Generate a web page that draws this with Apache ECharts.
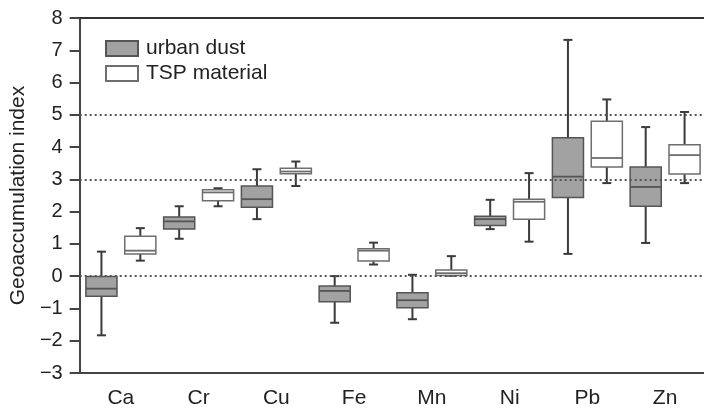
<!DOCTYPE html>
<html>

<head>
  <meta charset="UTF-8">
  <title>Geoaccumulation index</title>
  <script type="text/javascript" src="https://cdn.jsdelivr.net/npm/echarts@6/dist/echarts.min.js"></script>
  <style>
    html, body { margin: 0; padding: 0; background: #fff; }
    #main { width: 704px; height: 409px; }
  </style>
</head>

<body>
  <div id="main"></div>

  <script>
    // categories (elements)
    var elements = ['Ca', 'Cr', 'Cu', 'Fe', 'Mn', 'Ni', 'Pb', 'Zn'];
    var yTicks = { min: -3, max: 8, step: 1 };
    var refLines = [0, 3, 5];

    // [lower whisker, Q1, median, Q3, upper whisker]
    var urbanDust = [
      [-1.86, -0.65, -0.41, -0.03, 0.74],
      [1.14, 1.44, 1.68, 1.82, 2.15],
      [1.75, 2.12, 2.37, 2.78, 3.30],
      [-1.47, -0.82, -0.48, -0.33, -0.02],
      [-1.36, -1.00, -0.77, -0.54, 0.02],
      [1.44, 1.55, 1.75, 1.84, 2.35],
      [0.67, 2.42, 3.07, 4.28, 7.32],
      [1.01, 2.15, 2.75, 3.37, 4.61]
    ];
    var tspMaterial = [
      [0.46, 0.67, 0.77, 1.22, 1.47],
      [2.15, 2.32, 2.58, 2.66, 2.71],
      [2.78, 3.16, 3.23, 3.33, 3.54],
      [0.34, 0.45, 0.77, 0.83, 1.02],
      [-0.01, 0.00, 0.07, 0.17, 0.60],
      [1.05, 1.75, 2.29, 2.37, 3.18],
      [2.87, 3.37, 3.65, 4.79, 5.47],
      [2.87, 3.15, 3.74, 4.06, 5.08]
    ];

    var font = 'Liberation Sans, Arial, sans-serif';
    var axisColor = '#444';
    var whiskerColor = '#3a3a3a';

    var dustStyle = { color: '#a2a2a2', borderColor: '#555', borderWidth: 1.5 };
    var tspStyle = { color: '#ffffff', borderColor: '#6e6e6e', borderWidth: 1.5 };

    function toRows(list) {
      return list.map(function (v, i) { return [i].concat(v); });
    }

    // draws one box with short whisker caps, shifted left (-1) or right (+1) in the band
    function boxRenderer(side, st) {
      return function (params, api) {
        var idx = api.value(0);
        var band = api.size([1, 0])[0];
        var cx = api.coord([idx, 0])[0] + side * band / 4;
        var hw = band * 0.2;
        var cap = 4.5;
        var yLow = api.coord([idx, api.value(1)])[1];
        var yQ1 = api.coord([idx, api.value(2)])[1];
        var yMed = api.coord([idx, api.value(3)])[1];
        var yQ3 = api.coord([idx, api.value(4)])[1];
        var yHigh = api.coord([idx, api.value(5)])[1];
        var ws = { stroke: whiskerColor, lineWidth: 2 };
        return {
          type: 'group',
          children: [
            { type: 'line', shape: { x1: cx, y1: yHigh, x2: cx, y2: yLow }, style: ws },
            { type: 'line', shape: { x1: cx - cap, y1: yHigh, x2: cx + cap, y2: yHigh }, style: ws },
            { type: 'line', shape: { x1: cx - cap, y1: yLow, x2: cx + cap, y2: yLow }, style: ws },
            {
              type: 'rect',
              shape: { x: cx - hw, y: yQ3, width: hw * 2, height: Math.max(yQ1 - yQ3, 1) },
              style: { fill: st.color, stroke: st.borderColor, lineWidth: st.borderWidth }
            },
            {
              type: 'line',
              shape: { x1: cx - hw, y1: yMed, x2: cx + hw, y2: yMed },
              style: { stroke: st.borderColor, lineWidth: 1.8 }
            }
          ]
        };
      };
    }

    var myChart = echarts.init(document.getElementById('main'));
    var option = {
      animation: false,
      textStyle: { fontFamily: font },
      legend: {
        orient: 'vertical',
        left: 105,
        top: 38,
        padding: 0,
        itemWidth: 32,
        itemHeight: 15,
        itemGap: 4,
        icon: 'rect',
        selectedMode: false,
        data: ['urban dust', 'TSP material'],
        textStyle: { fontSize: 21, lineHeight: 20, color: '#222', fontFamily: font, padding: [0, 0, 0, 3] }
      },
      grid: [
        { left: 76, right: 0, top: 18, bottom: 36 },
        { left: 82, right: 0, top: 18, bottom: 36 }
      ],
      xAxis: [
        {
          gridIndex: 0, type: 'value', min: 0, max: 1, position: 'bottom',
          axisLine: { onZero: false, lineStyle: { color: axisColor, width: 2 } },
          axisTick: { show: false }, axisLabel: { show: false }, splitLine: { show: false }
        },
        {
          gridIndex: 0, type: 'value', min: 0, max: 1, position: 'top',
          axisLine: { onZero: false, lineStyle: { color: '#333', width: 2 } },
          axisTick: { show: false }, axisLabel: { show: false }, splitLine: { show: false }
        },
        {
          gridIndex: 1, type: 'category', data: elements,
          axisLine: { show: false, onZero: false },
          axisTick: {
            length: 10,
            interval: function (i) { return i > 0; },
            lineStyle: { color: axisColor, width: 2 }
          },
          axisLabel: { fontSize: 21, color: '#222', margin: 16, fontFamily: font }
        }
      ],
      yAxis: [
        {
          gridIndex: 0, type: 'value',
          min: yTicks.min, max: yTicks.max, interval: yTicks.step,
          name: 'Geoaccumulation index',
          nameLocation: 'middle',
          nameGap: 46,
          nameTextStyle: { fontSize: 21, color: '#222', fontFamily: font },
          axisLine: { show: true, onZero: false, lineStyle: { color: axisColor, width: 2 } },
          axisTick: { show: true, length: 10, lineStyle: { color: axisColor, width: 2 } },
          axisLabel: {
            fontSize: 20, color: '#222', margin: 17, fontFamily: font,
            formatter: function (v) { return v < 0 ? '\u2212' + Math.abs(v) : String(v); }
          },
          splitLine: { show: false }
        },
        {
          gridIndex: 1, type: 'value',
          min: yTicks.min, max: yTicks.max, interval: yTicks.step,
          show: false
        }
      ],
      series: [
        {
          name: 'refs',
          type: 'line',
          xAxisIndex: 0,
          yAxisIndex: 0,
          data: [],
          markLine: {
            silent: true,
            symbol: 'none',
            label: { show: false },
            lineStyle: { type: [2, 3], color: '#555', width: 2 },
            data: refLines.map(function (v) { return { yAxis: v }; })
          }
        },
        {
          name: 'urban dust',
          type: 'custom',
          xAxisIndex: 2,
          yAxisIndex: 1,
          itemStyle: dustStyle,
          encode: { x: 0, y: [1, 2, 3, 4, 5] },
          renderItem: boxRenderer(-1, dustStyle),
          data: toRows(urbanDust)
        },
        {
          name: 'TSP material',
          type: 'custom',
          xAxisIndex: 2,
          yAxisIndex: 1,
          itemStyle: tspStyle,
          encode: { x: 0, y: [1, 2, 3, 4, 5] },
          renderItem: boxRenderer(1, tspStyle),
          data: toRows(tspMaterial)
        }
      ]
    };
    myChart.setOption(option);
  </script>
</body>

</html>
